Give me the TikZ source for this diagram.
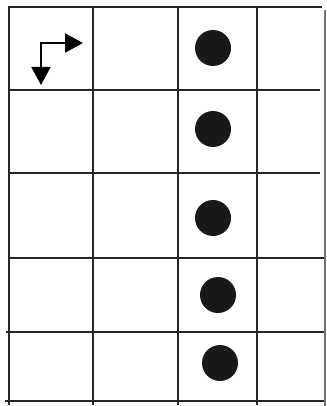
\documentclass[tikz,border=0pt]{standalone}
\usetikzlibrary{arrows.meta}
\begin{document}
\begin{tikzpicture}[x=1pt,y=-1pt,
  gridline/.style={line width=1.8pt,draw=black!85},
  edgeline/.style={line width=1.2pt,draw=black!55},
  dot/.style={circle,fill=black!90,minimum size=36pt,inner sep=0pt},
  turnarrow/.style={line width=2pt,line join=miter,{Triangle[width=19pt,length=18pt]}-{Triangle[width=19pt,length=18pt]}}]
\useasboundingbox (0,0) rectangle (326,406);
% horizontal lines
\draw[gridline] (8,7) -- (322,7);
\draw[gridline] (8,90) -- (320,90);
\draw[gridline] (8,173) -- (320,173);
\draw[gridline] (8,258) -- (326,258);
\draw[gridline] (6,332) -- (326,332);
\draw[gridline] (5,401) -- (326,401);
% vertical lines
\draw[gridline] (9,7) -- (9,405);
\draw[gridline] (93,7) -- (93,405);
\draw[gridline] (178,7) -- (178,405);
\draw[gridline] (257,7) -- (257,405);
\draw[edgeline] (325,10) -- (325,406);
% dots
\node[dot] (d1) at (213,48) {};
\node[dot] (d2) at (213,129) {};
\node[dot] (d3) at (213,218) {};
\node[dot] (d4) at (218,295) {};
\node[dot] (d5) at (220,363) {};
% turn arrow
\coordinate (corner) at (41,43);
\coordinate (downend) at (41,85);
\coordinate (rightend) at (83,43);
\draw[turnarrow] (downend) -- (corner) -- (rightend);
\end{tikzpicture}
\end{document}
